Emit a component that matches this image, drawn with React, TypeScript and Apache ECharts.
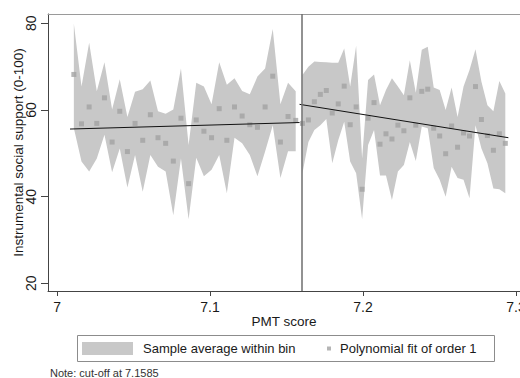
import React, { useEffect, useRef } from 'react';
import * as echarts from 'echarts';

const xTicks = [7, 7.1, 7.2, 7.3];
const yTicks = [20, 40, 60, 80];
const cutoff = 7.1585;

// Left of cut-off: bin centres, bin means, band bounds
const leftX = [7.011, 7.016, 7.021, 7.026, 7.031, 7.036, 7.041, 7.046, 7.051, 7.056, 7.061, 7.066, 7.071, 7.076, 7.081, 7.086, 7.091, 7.096, 7.101, 7.106, 7.111, 7.116, 7.121, 7.126, 7.131, 7.136, 7.141, 7.146, 7.151, 7.156];
const leftMean = [68.2, 56.8, 60.7, 56.9, 62.8, 52.6, 59.7, 50.4, 56.9, 53.0, 58.9, 53.6, 52.3, 48.2, 58.1, 43.0, 57.7, 55.1, 53.6, 60.3, 53.0, 60.7, 58.6, 56.6, 56.0, 60.7, 67.8, 52.6, 58.5, 57.6];
const leftUpper = [79.9, 65.4, 75.5, 64.3, 71.0, 60.1, 67.1, 58.4, 64.2, 64.8, 66.8, 59.7, 59.1, 60.1, 69.6, 51.9, 66.3, 65.4, 61.3, 71.0, 65.8, 67.3, 64.4, 63.6, 67.7, 69.6, 78.7, 61.3, 66.3, 64.3];
const leftLower = [55.8, 48.1, 45.8, 48.8, 54.3, 45.6, 51.1, 42.1, 49.6, 41.1, 49.6, 46.9, 45.8, 35.7, 48.8, 34.8, 49.0, 44.7, 46.2, 49.6, 40.8, 53.6, 52.3, 49.6, 44.7, 50.4, 56.5, 44.3, 50.5, 50.5];

// Right of cut-off
const rightX = [7.1604, 7.1643, 7.1682, 7.1721, 7.176, 7.1799, 7.1838, 7.1877, 7.1916, 7.1955, 7.1994, 7.2033, 7.2072, 7.2111, 7.215, 7.2189, 7.2228, 7.2267, 7.2306, 7.2345, 7.2384, 7.2423, 7.2462, 7.2501, 7.254, 7.2579, 7.2618, 7.2657, 7.2696, 7.2735, 7.2774, 7.2813, 7.2852, 7.2891, 7.293];
const rightMean = [56.9, 57.7, 61.9, 63.6, 64.5, 59.3, 61.4, 65.5, 56.6, 60.7, 41.7, 58.1, 61.7, 52.1, 54.5, 53.3, 56.5, 55.2, 62.8, 56.5, 64.3, 64.8, 55.8, 54.0, 49.9, 56.3, 51.4, 54.7, 54.0, 65.4, 57.8, 54.1, 50.7, 54.5, 52.3];
const rightUpper = [68.1, 70.0, 71.2, 71.1, 71.0, 70.9, 70.9, 74.2, 65.4, 74.8, 48.8, 66.9, 68.2, 61.1, 64.6, 67.3, 65.4, 63.4, 71.5, 64.0, 73.9, 74.6, 65.2, 64.6, 60.0, 65.2, 58.4, 65.4, 69.2, 74.0, 66.5, 61.1, 59.7, 66.7, 63.8];
const rightLower = [45.4, 52.6, 55.4, 56.5, 57.9, 47.7, 53.0, 57.3, 48.1, 45.4, 34.8, 51.9, 55.4, 44.9, 44.9, 39.2, 45.8, 47.3, 52.6, 48.2, 56.2, 55.8, 46.6, 43.9, 40.0, 46.9, 44.3, 43.9, 39.6, 56.5, 51.1, 47.7, 41.9, 41.7, 40.8];

// Linear fits (endpoints)
const leftFit = [[7.0085, 55.6], [7.1585, 57.1]];
const rightFit = [[7.1585, 61.3], [7.295, 53.6]];

const FONT = '"Liberation Sans", Arial, sans-serif';
const TXT = '#1a1a1a';
const BAND = '#c8c8c8';
const DOT = '#a2a2a2';

export default function App() {
  const ref = useRef<HTMLDivElement>(null);
  useEffect(() => {
    const chart = echarts.init(ref.current!, null, { renderer: 'svg' });
    const xMin = 6.9941, xMax = 7.3026, yMin = 18.22, yMax = 82.15;
    const bandPoly = (api: any, xs: number[], up: number[], lo: number[]) => {
      const pts: number[][] = [];
      for (let i = 0; i < xs.length; i++) pts.push(api.coord([xs[i], up[i]]));
      for (let i = xs.length - 1; i >= 0; i--) pts.push(api.coord([xs[i], lo[i]]));
      return pts;
    };
    const scatterData = [
      ...leftX.map((x, i) => [x, leftMean[i]]),
      ...rightX.map((x, i) => [x, rightMean[i]]),
    ];
    chart.setOption({
      animation: false,
      textStyle: { fontFamily: FONT },
      grid: { left: 48, right: 0, top: 14, bottom: 87, containLabel: false, outerBoundsMode: 'none' },
      xAxis: [
        {
          type: 'value', min: xMin, max: xMax,
          axisLine: { show: true, lineStyle: { color: '#444', width: 1 } },
          axisTick: { show: true, length: 5, customValues: xTicks, lineStyle: { color: '#444' } },
          axisLabel: { customValues: xTicks, formatter: (v: number) => String(v), fontSize: 14, color: TXT, margin: 9, fontFamily: FONT, hideOverlap: false },
          splitLine: { show: false },
          name: 'PMT score', nameLocation: 'middle', nameGap: 23, nameMoveOverlap: false,
          nameTextStyle: { fontSize: 13.5, color: TXT, fontFamily: FONT },
        },
        {
          type: 'value', min: xMin, max: xMax, position: 'top',
          axisLine: { show: true, lineStyle: { color: '#9a9a9a', width: 1 } },
          axisTick: { show: false }, axisLabel: { show: false }, splitLine: { show: false },
        },
      ],
      yAxis: {
        type: 'value', min: yMin, max: yMax,
        axisLine: { show: true, lineStyle: { color: '#444', width: 1 } },
        axisTick: { show: true, length: 7, customValues: yTicks, lineStyle: { color: '#444' } },
        axisLabel: { customValues: yTicks, rotate: 90, fontSize: 14, color: TXT, margin: 10, fontFamily: FONT },
        splitLine: { show: false },
        name: 'Instrumental social support (0-100)', nameLocation: 'middle', nameGap: 23, nameMoveOverlap: false,
        nameTextStyle: { fontSize: 13.5, color: TXT, fontFamily: FONT },
      },
      legend: [
        {
          data: [{ name: 'Sample average within bin', icon: 'rect', itemStyle: { color: BAND } }],
          left: 82, top: 342, padding: 0, itemWidth: 51, itemHeight: 13, selectedMode: false,
          textStyle: { fontSize: 13, color: TXT, fontFamily: FONT, padding: [0, 0, 0, 5] },
        },
        {
          data: [{ name: 'Polynomial fit of order 1', icon: 'rect', itemStyle: { color: DOT } }],
          left: 327, top: 342, padding: 0, itemWidth: 4, itemHeight: 4, selectedMode: false,
          textStyle: { fontSize: 13, color: TXT, fontFamily: FONT, padding: [0, 0, 0, 4] },
        },
      ],
      graphic: [
        {
          type: 'rect', z: -1, silent: true,
          shape: { x: 77.5, y: 335.5, width: 417, height: 26 },
          style: { fill: '#fff', stroke: '#8c8c8c', lineWidth: 1 },
        },
        {
          type: 'text', x: 50, y: 373, silent: true,
          style: { text: 'Note: cut-off at 7.1585', fontSize: 11, fontFamily: FONT, fill: '#333', verticalAlign: 'middle' },
        },
      ],
      series: [
        {
          type: 'custom', name: 'Sample average within bin',
          coordinateSystem: 'cartesian2d', silent: true, z: 1,
          itemStyle: { color: BAND },
          data: [[7.1, 50]],
          renderItem: (_p: any, api: any) => ({
            type: 'group',
            children: [
              { type: 'polygon', shape: { points: bandPoly(api, leftX, leftUpper, leftLower) }, style: { fill: BAND } },
              { type: 'polygon', shape: { points: bandPoly(api, rightX, rightUpper, rightLower) }, style: { fill: BAND } },
            ],
          }),
        },
        {
          type: 'scatter', name: 'Polynomial fit of order 1', z: 3,
          symbol: 'rect', symbolSize: 5, itemStyle: { color: DOT },
          data: scatterData,
        },
        {
          type: 'line', name: 'fitL', z: 4, symbol: 'none', silent: true,
          lineStyle: { color: '#111', width: 1 }, data: leftFit,
          markLine: {
            symbol: 'none', silent: true, label: { show: false },
            lineStyle: { color: '#6e6e6e', width: 1.5, type: 'solid' },
            data: [{ xAxis: cutoff }],
          },
        },
        {
          type: 'line', name: 'fitR', z: 4, symbol: 'none', silent: true,
          lineStyle: { color: '#111', width: 1 }, data: rightFit,
        },
      ],
    });
    return () => chart.dispose();
  }, []);
  return <div ref={ref} style={{ position: 'absolute', left: 0, top: 0, width: 520, height: 378 }} />;
}
